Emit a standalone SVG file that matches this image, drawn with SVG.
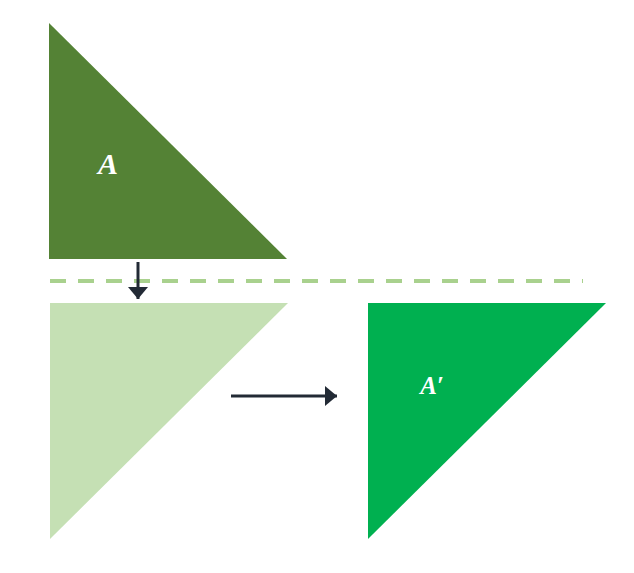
<svg xmlns="http://www.w3.org/2000/svg" width="634" height="573" viewBox="0 0 634 573">
<defs>
<style>
.lbl{font-family:"Liberation Serif","DejaVu Serif",serif;font-style:italic;font-weight:bold;fill:#ffffff}
.conn{stroke:#222a35;stroke-width:3;fill:none}
</style>
<marker id="ah" viewBox="0 0 12 20" refX="12" refY="10" markerUnits="userSpaceOnUse" markerWidth="12" markerHeight="20" orient="auto" preserveAspectRatio="none">
<path d="M0,0 L12,10 L0,20 Z" fill="#222a35"/>
</marker>
</defs>
<rect width="634" height="573" fill="#ffffff"/>
<g id="triA">
<polygon points="49,23 49,259 287,259" fill="#548235"/>
<text class="lbl" x="108" y="174" font-size="30" text-anchor="middle">A</text>
</g>
<g id="triReflected">
<polygon points="50,303 288,303 50,539" fill="#c5e0b4"/>
</g>
<g id="triAprime">
<polygon points="368,303 606,303 368,539" fill="#00b050"/>
<text class="lbl" x="432" y="394" font-size="25" text-anchor="middle">A′</text>
</g>
<g id="axis">
<line x1="50" y1="281" x2="583" y2="281" stroke="#a9d18e" stroke-width="4" stroke-dasharray="16 12"/>
</g>
<g id="connectors">
<line class="conn" x1="138" y1="262" x2="138" y2="299" marker-end="url(#ah)"/>
<line class="conn" x1="231" y1="396" x2="337" y2="396" marker-end="url(#ah)"/>
</g>
</svg>
